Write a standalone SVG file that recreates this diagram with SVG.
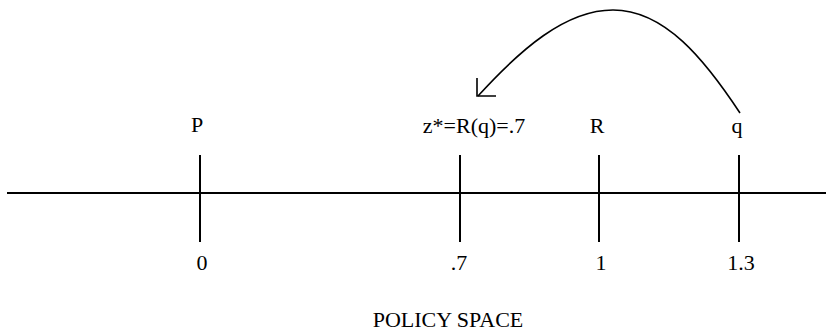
<svg xmlns="http://www.w3.org/2000/svg" width="826" height="332" viewBox="0 0 826 332">
<style>
text{font-family:"Liberation Serif","Times New Roman",serif;font-size:22px;fill:#000;text-anchor:middle}
.ln{stroke:#000;stroke-width:2;fill:none}
.cv{stroke:#000;stroke-width:1.6;fill:none}
</style>
<rect width="826" height="332" fill="#fff"/>
<g id="axis"><line class="ln" x1="7" y1="193" x2="826" y2="193"/></g>
<g id="node-P"><line class="ln" x1="200" y1="155" x2="200" y2="242"/><text x="197" y="132">P</text><text x="202" y="270">0</text></g>
<g id="node-z"><line class="ln" x1="460" y1="155" x2="460" y2="242"/><text x="474" y="133">z*=R(q)=.7</text><text x="459" y="270">.7</text></g>
<g id="node-R"><line class="ln" x1="599" y1="155" x2="599" y2="242"/><text x="597" y="133">R</text><text x="601" y="270">1</text></g>
<g id="node-q"><line class="ln" x1="739" y1="155" x2="739" y2="242"/><text x="737" y="133">q</text><text x="741" y="270">1.3</text></g>
<g id="connectors">
<path class="cv" d="M740 113 C705 60 665 10 613 10 C565 10 520 50 478 96"/>
<path class="cv" d="M477 78 L477 96 L496 96"/>
</g>
<text x="448" y="327">POLICY SPACE</text>
</svg>
